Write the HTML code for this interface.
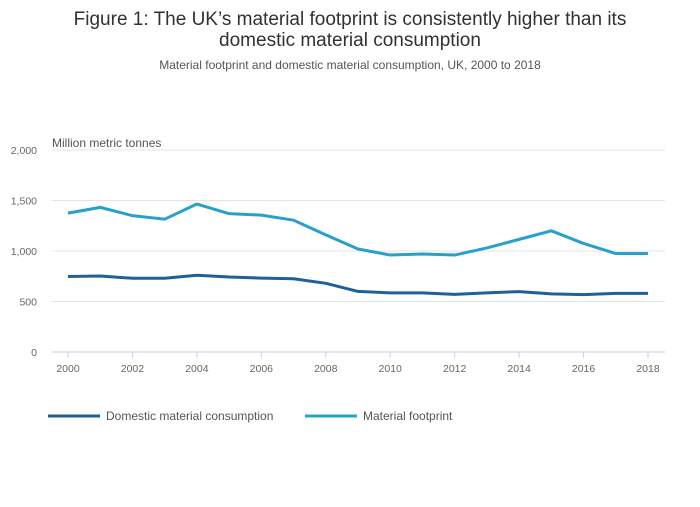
<!DOCTYPE html>
<html><head><meta charset="utf-8"><style>
body{margin:0;background:#fff;font-family:"Liberation Sans",sans-serif;}
</style></head><body>
<svg width="700" height="502" xmlns="http://www.w3.org/2000/svg">
<text x="350" y="25" text-anchor="middle" font-size="19" fill="#323132">Figure 1: The UK’s material footprint is consistently higher than its</text>
<text x="350" y="46" text-anchor="middle" font-size="19" fill="#323132">domestic material consumption</text>
<text x="350" y="69" text-anchor="middle" font-size="12" fill="#555">Material footprint and domestic material consumption, UK, 2000 to 2018</text>
<text x="52" y="147" font-size="12" fill="#555">Million metric tonnes</text>
<g id="grid"></g><g id="lines"></g>
<g>
<line x1="48" y1="416" x2="100" y2="416" stroke="#206095" stroke-width="3"/>
<text x="106" y="420" font-size="12" fill="#555">Domestic material consumption</text>
<line x1="305" y1="416" x2="357" y2="416" stroke="#27a0cc" stroke-width="3"/>
<text x="363" y="420" font-size="12" fill="#555">Material footprint</text>
</g>
</svg>
<script>
const years=[2000,2001,2002,2003,2004,2005,2006,2007,2008,2009,2010,2011,2012,2013,2014,2015,2016,2017,2018];
const footprint=[1375,1432,1350,1315,1465,1370,1355,1305,1160,1020,960,970,960,1030,1115,1200,1075,975,975];
const dmc=[748,752,730,730,760,742,732,725,680,600,585,585,570,585,598,575,568,580,580];
const yTicks=[0,500,1000,1500,2000];
const yTickLabels=["0","500","1,000","1,500","2,000"];
const xTicks=[2000,2002,2004,2006,2008,2010,2012,2014,2016,2018];
const NS="http://www.w3.org/2000/svg";
const x=v=>68+(v-2000)*(648-68)/18;
const y=v=>352-v*202/2000;
const grid=document.getElementById('grid'),lines=document.getElementById('lines');
function mk(t,a,p){const e=document.createElementNS(NS,t);for(const k in a)e.setAttribute(k,a[k]);p.appendChild(e);return e;}
yTicks.forEach((v,i)=>{
 const l=mk('line',{x1:52,x2:665,y1:y(v),y2:y(v),stroke:v===0?'#c5d3e8':'#e4e4e4','stroke-width':1},grid);
 
 
 const t=mk('text',{x:37,y:y(v)+4,'text-anchor':'end','font-size':10.5,fill:'#666'},grid);t.textContent=yTickLabels[i];
 
 
});
xTicks.forEach(v=>{
 const l=mk('line',{x1:x(v),x2:x(v),y1:352,y2:358,stroke:'#c5d3e8'},grid);
 
 
 const t=mk('text',{x:x(v),y:372,'text-anchor':'middle','font-size':10.5,fill:'#666'},grid);t.textContent=v;
 
 
});
function series(d,c,n){
 const p=mk('polyline',{points:d.map((v,i)=>x(years[i])+','+y(v)).join(' '),fill:'none',stroke:c,'stroke-width':3,'stroke-linejoin':'round'},lines);
 
 
}
series(dmc,'#206095','dmc-line');
series(footprint,'#27a0cc','footprint-line');
</script>
</body></html>
